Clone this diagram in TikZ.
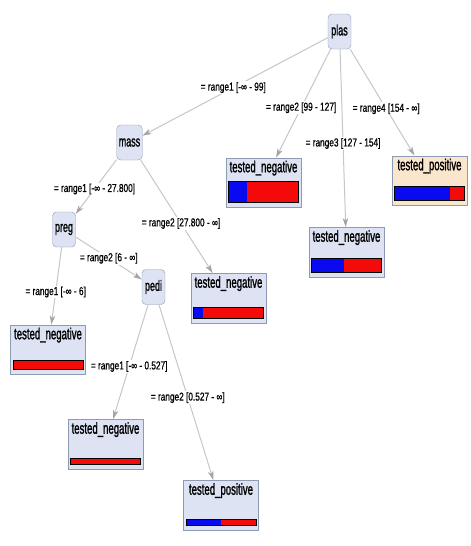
\documentclass[tikz,border=0pt]{standalone}
\usepackage{fontspec}
\setmainfont{Liberation Sans}
\newfontfamily\nodefont[FakeStretch=0.6, FakeBold=1.2]{Liberation Sans}
\newfontfamily\rangefont[FakeStretch=0.72, FakeBold=0.7]{Liberation Sans}
\usetikzlibrary{arrows.meta}
\definecolor{boxfill}{HTML}{DDE3F3}
\definecolor{boxline}{HTML}{8C9AB2}
\definecolor{posfill}{HTML}{FAE5CD}
\definecolor{edgegray}{HTML}{C6C6C6}
\definecolor{tipgray}{HTML}{A4A4A4}
\definecolor{barblue}{HTML}{0A0AF0}
\definecolor{barred}{HTML}{F50A0A}

\begin{document}
\begin{tikzpicture}[x=1pt, y=-1pt,
    attr/.style={draw=boxline, fill=boxfill, rounded corners=4pt, minimum width=23pt,
        minimum height=35pt, inner xsep=2pt, font=\nodefont\fontsize{15}{15}\selectfont},
    leaf/.style={draw=boxline, minimum width=75pt, text height=12pt, text depth=32.5pt,
        inner ysep=2.5pt, inner xsep=1pt, font=\nodefont\fontsize{16}{16}\selectfont},
    rangelbl/.style={fill=white, inner sep=1pt, font=\rangefont\fontsize{11.5}{11.5}\selectfont},
    branch/.style={draw=edgegray, line width=1pt,
        -{Stealth[length=9pt, width=5.5pt, inset=2.5pt, color=tipgray]}}]
    \useasboundingbox (0,0) rectangle (471,546);

    % attribute nodes
    \node[attr] (plas) at (339.5, 31.5) {plas};
    \node[attr] (mass) at (129.5, 142.5) {mass};
    \node[attr] (preg) at (64, 229.5) {preg};
    \node[attr] (pedi) at (153.5, 287) {pedi};

    % leaves with class bars
    \foreach \leafname/\lx/\ly/\frac/\bh/\tint/\txt in {
        negA/263.5/182.5/0.27/21/boxfill/tested\_negative,
        negB/346.5/252/0.46/14/boxfill/tested\_negative,
        posA/429.5/180.5/0.79/14/posfill/tested\_positive,
        negC/228.5/298/0.14/11/boxfill/tested\_negative,
        negD/48/349.5/0/9/boxfill/tested\_negative,
        negE/105.5/444/0/6/boxfill/tested\_negative,
        posB/221/505/0.5/6/boxfill/tested\_positive} {
        \node[leaf, fill=\tint] (\leafname) at (\lx, \ly) {\txt};
        \fill[barred] ({\lx-35}, {\ly+20.25}) rectangle ({\lx+35}, {\ly+20.25-\bh});
        \fill[barblue] ({\lx-35}, {\ly+20.25}) rectangle ({\lx-35+70*\frac}, {\ly+20.25-\bh});
        \draw[black, line width=0.6pt] ({\lx-35}, {\ly+20.25}) rectangle ({\lx+35}, {\ly+20.25-\bh});
    }

    \path (plas) edge[branch] node[rangelbl, pos=.51] (pA) {= range1 [-∞ - 99]} (mass);
    \path (plas) edge[branch] node[rangelbl, pos=.54] (pB) {= range2 [99 - 127]} (negA);
    \path (plas) edge[branch] node[rangelbl, pos=.53] (pC) {= range3 [127 - 154]} (negB);
    \path (plas) edge[branch] node[rangelbl, pos=.56] (pD) {= range4 [154 - ∞]} (posA);
    \path (mass) edge[branch] node[rangelbl, pos=.54] (mA) {= range1 [-∞ - 27.800]} (preg);
    \path (mass) edge[branch] node[rangelbl, pos=.56] (mB) {= range2 [27.800 - ∞]} (negC);
    \path (preg) edge[branch] node[rangelbl, pos=.58] (gA) {= range1 [-∞ - 6]} (negD);
    \path (preg) edge[branch] node[rangelbl, pos=.5] (gB) {= range2 [6 - ∞]} (pedi);
    \path (pedi) edge[branch] node[rangelbl, pos=.54] (dA) {= range1 [-∞ - 0.527]} (negE);
    \path (pedi) edge[branch] node[rangelbl, pos=.53] (dB) {= range2 [0.527 - ∞]} (posB);
\end{tikzpicture}
\end{document}
